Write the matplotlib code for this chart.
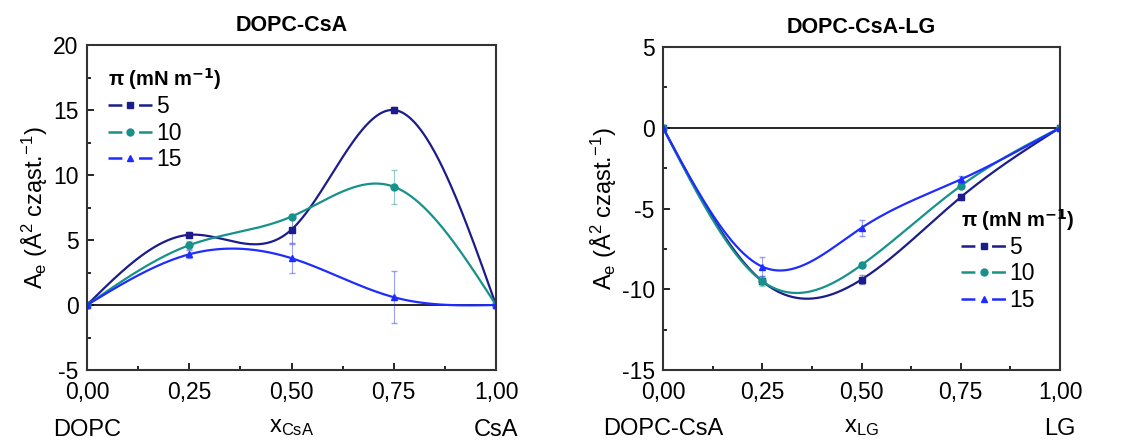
import numpy as np
import matplotlib.pyplot as plt
from matplotlib.ticker import MultipleLocator
from matplotlib.lines import Line2D

plt.rcParams['font.family'] = ['Liberation Sans', 'DejaVu Sans']
plt.rcParams['mathtext.default'] = 'regular'
plt.rcParams['lines.scale_dashes'] = False
plt.rcParams['axes.unicode_minus'] = False

x = [0.0, 0.25, 0.5, 0.75, 1.0]
pi_labels = ['5', '10', '15']
colors = ['#1c1c8a', '#17918a', '#1f2cff']
markers = ['s', 'o', '^']

# DOPC-CsA
left_y = [[0, 5.4, 5.8, 15.0, 0],
          [0, 4.6, 6.8, 9.1, 0],
          [0, 3.9, 3.6, 0.6, 0]]
left_err = [[0, 0.2, 1.0, 0.2, 0],
            [0, 0.3, 0.2, 1.3, 0],
            [0, 0.3, 1.1, 2.0, 0]]

# DOPC-CsA-LG
right_y = [[0, -9.5, -9.4, -4.3, 0],
           [0, -9.5, -8.5, -3.6, 0],
           [0, -8.6, -6.2, -3.2, 0]]
right_err = [[0, 0.2, 0.3, 0.2, 0],
             [0, 0.3, 0.2, 0.2, 0],
             [0, 0.6, 0.5, 0.2, 0]]


def spline(xs, ys, n=300):
    # natural cubic spline
    xs = np.asarray(xs, float); ys = np.asarray(ys, float)
    m = len(xs); h = np.diff(xs)
    A = np.zeros((m, m)); b = np.zeros(m)
    A[0, 0] = A[-1, -1] = 1
    for i in range(1, m - 1):
        A[i, i - 1] = h[i - 1]; A[i, i] = 2 * (h[i - 1] + h[i]); A[i, i + 1] = h[i]
        b[i] = 6 * ((ys[i + 1] - ys[i]) / h[i] - (ys[i] - ys[i - 1]) / h[i - 1])
    M = np.linalg.solve(A, b)
    xx = np.linspace(xs[0], xs[-1], n)
    k = np.clip(np.searchsorted(xs, xx) - 1, 0, m - 2)
    t1 = xs[k + 1] - xx; t0 = xx - xs[k]
    yy = (M[k] * t1**3 + M[k + 1] * t0**3) / (6 * h[k]) \
        + (ys[k] / h[k] - M[k] * h[k] / 6) * t1 + (ys[k + 1] / h[k] - M[k + 1] * h[k] / 6) * t0
    return xx, yy


fig = plt.figure(figsize=(11.32, 4.41), dpi=100)
ax1 = fig.add_axes([87 / 1132, 1 - 370 / 441, 409 / 1132, 325 / 441])
ax2 = fig.add_axes([663 / 1132, 1 - 370 / 441, 397 / 1132, 323 / 441])

panels = [(ax1, left_y, left_err, 'DOPC-CsA', (-5, 20), 'x$_{CsA}$', 'DOPC', 'CsA', (0.04, 0.95)),
          (ax2, right_y, right_err, 'DOPC-CsA-LG', (-15, 5), 'x$_{LG}$', 'DOPC-CsA', 'LG', (0.74, 0.52))]

for ax, ys, errs, title, ylim, xlab, l0, l1, legpos in panels:
    ax.axhline(0, color='black', lw=1.2)
    handles = []
    for yv, ev, c, mk, lab in zip(ys, errs, colors, markers, pi_labels):
        xx, yy = spline(x, yv)
        ax.plot(xx, yy, color=c, lw=1.6)
        ax.errorbar(x, yv, yerr=ev, fmt='none', ecolor=c, elinewidth=0.8, capsize=2.5, alpha=0.45)
        ax.plot(x, yv, ls='none', marker=mk, color=c, ms=5)
        handles.append(Line2D([], [], color=c, lw=1.8, marker=mk, ms=5,
                              ls=(0, (10, 12, 10, 60)), label=lab))
    ax.set_xlim(0, 1)
    ax.set_ylim(*ylim)
    ax.xaxis.set_minor_locator(MultipleLocator(0.125))
    ax.yaxis.set_major_locator(MultipleLocator(5))
    ax.yaxis.set_minor_locator(MultipleLocator(2.5))
    ax.set_xticks(x)
    ax.set_xticklabels([f'{v:.2f}'.replace('.', ',') for v in x])
    ax.tick_params(which='both', direction='in', top=False, right=False, labelsize=16.5, width=1.2)
    ax.tick_params(which='major', length=5, pad=6)
    ax.tick_params(axis='x', which='major', pad=8)
    ax.tick_params(which='minor', length=3)
    for s in ax.spines.values():
        s.set_linewidth(1.5)
        s.set_color('#333333')
    ax.set_title(title, fontsize=15.5, fontweight='bold', pad=10)
    ax.set_ylabel('A$_e$ (Å$^2$ cząst.$^{-1}$)', fontsize=17, labelpad=2)
    ax.set_xlabel(xlab, fontsize=17)
    ax.xaxis.set_label_coords(0.5, -0.21)
    ax.xaxis.label.set_va('bottom')
    ax.text(0, -0.15, l0, transform=ax.transAxes, ha='center', va='top', fontsize=17)
    ax.text(1, -0.15, l1, transform=ax.transAxes, ha='center', va='top', fontsize=17)
    leg = ax.legend(handles=handles, loc='upper left', bbox_to_anchor=legpos, frameon=False,
                    fontsize=16.5, title='π (mN m$^{\\mathbf{-1}}$)',
                    title_fontproperties={'weight': 'bold', 'size': 14.5},
                    handlelength=1.94, handletextpad=0.15, labelspacing=0.15, numpoints=1,
                    borderaxespad=0, borderpad=0.2)
    leg._legend_box.align = 'left'

fig.savefig('out.png', dpi=100)
